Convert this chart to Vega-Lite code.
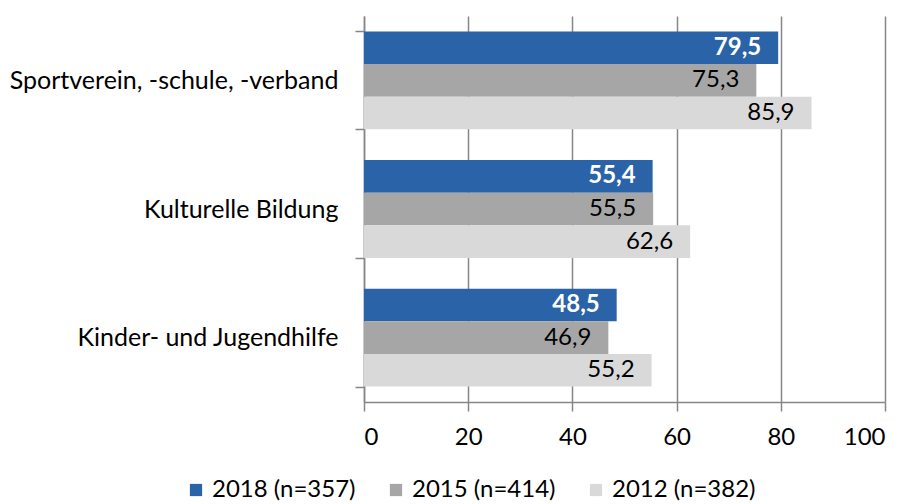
{
  "$schema": "https://vega.github.io/schema/vega-lite/v6.json",
  "width": 521,
  "height": 386,
  "autosize": "none",
  "padding": {"left": 364, "top": 16, "right": 24, "bottom": 102},
  "config": {
    "view": {"stroke": null},
    "font": "Lato",
    "locale": {"number": {"decimal": ",", "thousands": ".", "grouping": [3], "currency": ["", " €"]}}
  },
  "data": {
    "values": [
      {"cat": "Sportverein, -schule, -verband", "series": "2018 (n=357)", "value": 79.5},
      {"cat": "Sportverein, -schule, -verband", "series": "2015 (n=414)", "value": 75.3},
      {"cat": "Sportverein, -schule, -verband", "series": "2012 (n=382)", "value": 85.9},
      {"cat": "Kulturelle Bildung", "series": "2018 (n=357)", "value": 55.4},
      {"cat": "Kulturelle Bildung", "series": "2015 (n=414)", "value": 55.5},
      {"cat": "Kulturelle Bildung", "series": "2012 (n=382)", "value": 62.6},
      {"cat": "Kinder- und Jugendhilfe", "series": "2018 (n=357)", "value": 48.5},
      {"cat": "Kinder- und Jugendhilfe", "series": "2015 (n=414)", "value": 46.9},
      {"cat": "Kinder- und Jugendhilfe", "series": "2012 (n=382)", "value": 55.2}
    ]
  },
  "encoding": {
    "y": {
      "field": "cat",
      "type": "nominal",
      "sort": ["Sportverein, -schule, -verband", "Kulturelle Bildung", "Kinder- und Jugendhilfe"],
      "scale": {"paddingInner": 0.24, "paddingOuter": 0.12},
      "axis": {
        "title": null,
        "domainColor": "#868686",
        "domainWidth": 1.5,
        "tickColor": "#868686",
        "tickWidth": 1.5,
        "tickSize": 9,
        "tickBand": "extent",
        "labelFontSize": 25,
        "labelLimit": 400,
        "labelColor": "#000000",
        "labelPadding": 17,
        "grid": false
      }
    },
    "yOffset": {
      "field": "series",
      "type": "nominal",
      "sort": ["2018 (n=357)", "2015 (n=414)", "2012 (n=382)"]
    },
    "x": {
      "field": "value",
      "type": "quantitative",
      "scale": {"domain": [0, 100]},
      "axis": {
        "title": null,
        "values": [0, 20, 40, 60, 80, 100],
        "format": "d",
        "grid": true,
        "gridColor": "#868686",
        "gridWidth": 1.5,
        "domainColor": "#868686",
        "domainWidth": 1.5,
        "tickColor": "#868686",
        "tickWidth": 1.5,
        "tickSize": 9,
        "labelFontSize": 24,
        "labelColor": "#000000",
        "labelPadding": 14
      }
    }
  },
  "layer": [
    {
      "mark": {"type": "bar"},
      "encoding": {
        "color": {
          "field": "series",
          "type": "nominal",
          "sort": ["2018 (n=357)", "2015 (n=414)", "2012 (n=382)"],
          "scale": {"domain": ["2018 (n=357)", "2015 (n=414)", "2012 (n=382)"], "range": ["#2A63A8", "#A6A6A6", "#D9D9D9"]},
          "legend": {
            "title": null,
            "orient": "none",
            "direction": "horizontal",
            "legendX": -180,
            "legendY": 462,
            "symbolType": "square",
            "symbolSize": 150,
            "symbolStrokeWidth": 0,
            "labelFontSize": 24,
            "labelLimit": 300,
            "labelColor": "#000000",
            "labelOffset": 4,
            "columnPadding": 28
          }
        }
      }
    },
    {
      "transform": [{"filter": "datum.series === '2018 (n=357)'"}],
      "mark": {"type": "text", "align": "right", "baseline": "middle", "dx": -17, "fontWeight": "bold", "color": "#FFFFFF", "fontSize": 24},
      "encoding": {"text": {"field": "value", "type": "quantitative", "format": ".1f"}}
    },
    {
      "transform": [{"filter": "datum.series !== '2018 (n=357)'"}],
      "mark": {"type": "text", "align": "right", "baseline": "middle", "dx": -17, "color": "#000000", "fontSize": 24},
      "encoding": {"text": {"field": "value", "type": "quantitative", "format": ".1f"}}
    }
  ]
}
